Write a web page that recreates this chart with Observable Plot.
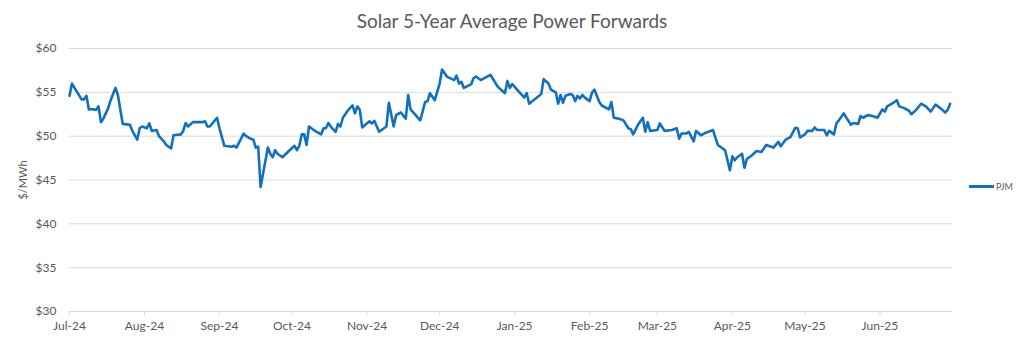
<!DOCTYPE html>
<html><head><meta charset="utf-8">
<script src="https://cdn.jsdelivr.net/npm/d3@7"></script>
<script src="https://cdn.jsdelivr.net/npm/@observablehq/plot@0.6"></script>
<style>
html,body{margin:0;padding:0;background:#fff;}
#wrap{position:relative;width:1024px;height:341px;overflow:hidden;font-family:Lato,"Open Sans",sans-serif;}
#title{position:absolute;top:9px;left:0;width:1024px;text-align:center;font-size:19px;color:#595959;}
#ylabel{position:absolute;left:22px;top:180px;transform:translate(-50%,-50%) rotate(-90deg);font-size:11px;color:#595959;white-space:nowrap;}
#legend{position:absolute;left:969px;top:180px;font-size:9px;color:#595959;display:flex;align-items:center;height:12px;}
#legend .sw{display:inline-block;width:25px;height:3px;background:#1170c0;margin-right:2px;}
#chart{position:absolute;left:0;top:0;}
</style>
</head><body>
<div id="wrap">
  <div id="chart"></div>
  <div id="title">Solar 5-Year Average Power Forwards</div>
  <div id="ylabel">$/MWh</div>
  <div id="legend"><span class="sw"></span><span id="legtext"></span></div>
</div>
<script>
const seriesName = "PJM";
const dates = [
"2024-07-01","2024-07-02","2024-07-06","2024-07-07","2024-07-08","2024-07-09","2024-07-10","2024-07-12","2024-07-13","2024-07-14",
"2024-07-15","2024-07-17","2024-07-18","2024-07-19","2024-07-20","2024-07-21","2024-07-23","2024-07-26","2024-07-27","2024-07-29",
"2024-07-30","2024-07-31","2024-08-02","2024-08-03","2024-08-04","2024-08-06","2024-08-07","2024-08-09","2024-08-10","2024-08-12",
"2024-08-13","2024-08-16","2024-08-17","2024-08-18","2024-08-19","2024-08-21","2024-08-25","2024-08-26","2024-08-27","2024-08-28",
"2024-08-31","2024-09-01","2024-09-03","2024-09-06","2024-09-07","2024-09-08","2024-09-11","2024-09-12","2024-09-14","2024-09-15",
"2024-09-16","2024-09-17","2024-09-18","2024-09-21","2024-09-22","2024-09-23","2024-09-24","2024-09-25","2024-09-27","2024-09-30",
"2024-10-02","2024-10-03","2024-10-04","2024-10-05","2024-10-06","2024-10-07","2024-10-08","2024-10-10","2024-10-13","2024-10-14",
"2024-10-15","2024-10-16","2024-10-17","2024-10-19","2024-10-20","2024-10-21","2024-10-22","2024-10-24","2024-10-26","2024-10-27",
"2024-10-28","2024-10-29","2024-10-30","2024-11-02","2024-11-03","2024-11-04","2024-11-06","2024-11-09","2024-11-10","2024-11-12",
"2024-11-13","2024-11-15","2024-11-17","2024-11-18","2024-11-19","2024-11-23","2024-11-25","2024-11-26","2024-11-27","2024-11-29",
"2024-12-01","2024-12-02","2024-12-04","2024-12-07","2024-12-08","2024-12-09","2024-12-10","2024-12-11","2024-12-14","2024-12-15",
"2024-12-16","2024-12-18","2024-12-22","2024-12-25","2024-12-28","2024-12-29","2024-12-30","2024-12-31","2025-01-02","2025-01-05",
"2025-01-06","2025-01-07","2025-01-12","2025-01-13","2025-01-15","2025-01-16","2025-01-18","2025-01-19","2025-01-20","2025-01-21",
"2025-01-22","2025-01-24","2025-01-25","2025-01-26","2025-01-27","2025-01-28","2025-01-29","2025-01-30","2025-02-01","2025-02-02",
"2025-02-03","2025-02-05","2025-02-06","2025-02-09","2025-02-10","2025-02-11","2025-02-13","2025-02-15","2025-02-17","2025-02-18",
"2025-02-19","2025-02-21","2025-02-23","2025-02-24","2025-02-25","2025-02-26","2025-03-01","2025-03-02","2025-03-04","2025-03-07",
"2025-03-09","2025-03-10","2025-03-11","2025-03-13","2025-03-14","2025-03-16","2025-03-17","2025-03-19","2025-03-21","2025-03-23",
"2025-03-24","2025-03-26","2025-03-28","2025-03-29","2025-03-31","2025-04-01","2025-04-02","2025-04-03","2025-04-05","2025-04-06",
"2025-04-07","2025-04-09","2025-04-11","2025-04-13","2025-04-15","2025-04-18","2025-04-20","2025-04-21","2025-04-23","2025-04-25",
"2025-04-27","2025-04-28","2025-04-29","2025-05-01","2025-05-02","2025-05-04","2025-05-05","2025-05-06","2025-05-09","2025-05-10",
"2025-05-11","2025-05-13","2025-05-14","2025-05-15","2025-05-17","2025-05-20","2025-05-21","2025-05-23","2025-05-24","2025-05-25",
"2025-05-27","2025-05-29","2025-05-31","2025-06-02","2025-06-03","2025-06-04","2025-06-06","2025-06-08","2025-06-09","2025-06-11",
"2025-06-13","2025-06-14","2025-06-16","2025-06-18","2025-06-20","2025-06-22","2025-06-24","2025-06-26","2025-06-28","2025-06-29",
"2025-06-30"
];
const values = [
54.6,56.0,54.2,54.2,54.6,53.05,53.1,53.0,53.4,51.6,
52.0,53.2,54.1,54.8,55.5,54.7,51.4,51.3,50.6,49.6,
50.9,51.1,50.9,51.45,50.6,50.7,50.0,49.4,49.0,48.6,
50.1,50.2,50.6,51.5,51.1,51.6,51.6,51.7,51.1,51.1,
52.1,50.9,48.9,48.8,48.9,48.7,50.3,50.0,49.7,49.6,
48.7,48.8,44.2,48.7,48.0,47.6,48.4,48.0,47.6,48.4,
48.9,48.4,48.9,50.2,50.2,49.0,51.1,50.7,50.2,50.9,
50.9,51.5,51.1,50.5,51.4,51.1,52.1,52.9,53.5,52.6,
53.4,53.0,51.0,51.7,51.45,51.75,50.5,51.1,53.8,51.1,
52.4,52.7,52.0,54.7,53.05,51.8,53.9,54.0,54.9,54.1,
56.0,57.6,56.8,56.4,56.9,56.0,56.2,55.5,55.9,56.6,
56.8,56.4,57.0,55.65,54.9,56.3,55.5,55.95,55.3,54.4,
54.9,53.7,54.8,56.5,56.0,55.3,55.0,53.7,54.7,53.8,
54.6,54.8,54.7,54.0,54.6,54.3,54.7,54.4,54.0,55.0,
55.3,53.9,53.5,53.05,53.9,52.1,52.0,51.8,50.9,50.8,
50.2,51.3,52.1,50.5,51.6,50.6,50.7,51.45,50.6,50.7,
50.9,49.7,50.3,50.3,50.5,49.4,50.6,50.1,50.4,50.6,
50.7,49.0,48.6,48.4,46.1,47.7,47.25,47.6,48.0,46.4,
47.4,47.8,48.3,48.2,49.0,48.7,49.35,48.85,49.6,49.9,
50.95,50.9,49.85,50.2,50.6,50.6,51.0,50.7,50.7,50.1,
50.6,50.2,51.45,51.8,52.6,51.3,51.5,51.4,52.3,52.1,
52.4,52.3,52.1,53.05,52.8,53.4,53.7,54.1,53.4,53.2,
52.9,52.5,53.0,53.7,53.4,52.8,53.6,53.2,52.7,53.0,
53.7
];
const yTicks = [30, 35, 40, 45, 50, 55, 60];
const monthTicks = ["2024-07-01","2024-08-01","2024-09-01","2024-10-01","2024-11-01","2024-12-01",
  "2025-01-01","2025-02-01","2025-03-01","2025-04-01","2025-05-01","2025-06-01"];
const xDomain = ["2024-07-01", "2025-07-01"];

const data = dates.map((d, i) => ({date: new Date(d), value: values[i], series: seriesName}));
document.getElementById("legtext").textContent = seriesName;

const plot = Plot.plot({
  width: 1024, height: 341,
  marginLeft: 69, marginRight: 72, marginTop: 48, marginBottom: 30,
  style: {fontFamily: 'Lato, "Open Sans", sans-serif', background: "white", color: "#595959"},
  x: {type: "utc", domain: xDomain.map(d => new Date(d))},
  y: {domain: [yTicks[0], yTicks[yTicks.length - 1]]},
  marks: [
    Plot.gridY(yTicks.slice(1), {stroke: "#d9d9d9", strokeOpacity: 1, strokeWidth: 1}),
    Plot.ruleY([yTicks[0]], {stroke: "#d9d9d9", strokeWidth: 1}),
    Plot.axisY(yTicks, {tickSize: 0, tickPadding: 13, tickFormat: d => "$" + d, fontSize: 12, fill: "#595959", label: null}),
    Plot.axisX(monthTicks.map(d => new Date(d)), {tickSize: 4, tickPadding: 6, stroke: "#d9d9d9", fill: "#595959",
      tickFormat: d3.utcFormat("%b-%y"), fontSize: 12, label: null}),
    Plot.lineY(data, {x: "date", y: "value", stroke: "#1170c0", strokeWidth: 2.6, strokeLinejoin: "round"})
  ]
});
document.getElementById("chart").appendChild(plot);
</script>
</body></html>
